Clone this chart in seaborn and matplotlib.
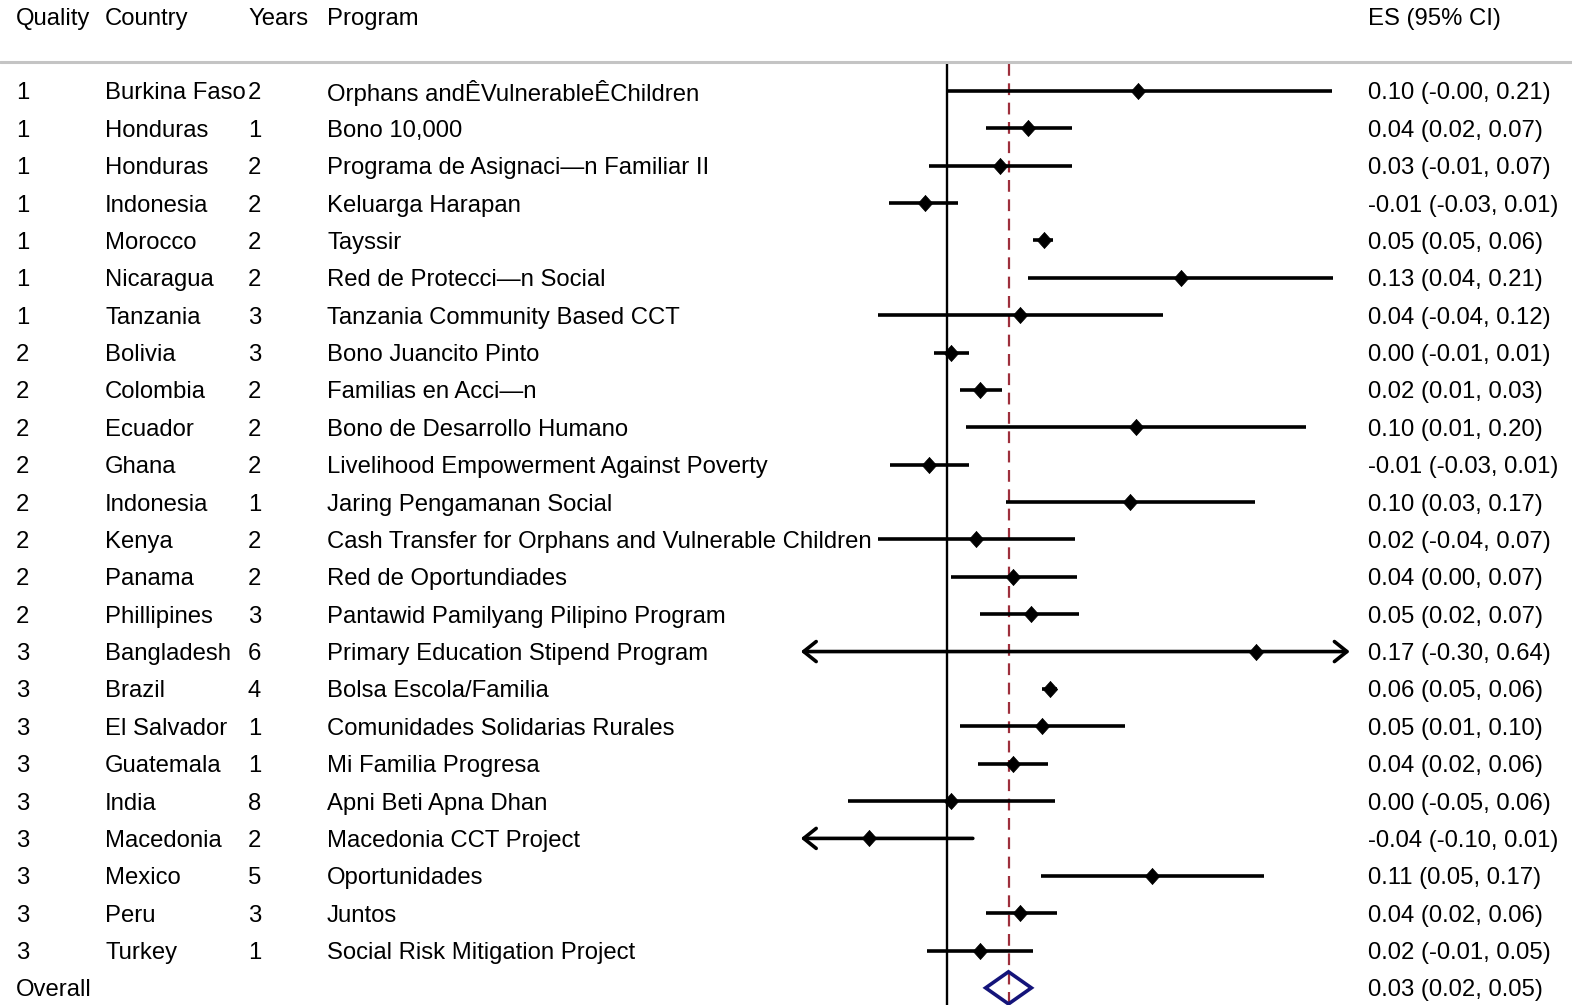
import numpy as np
import pandas as pd
import matplotlib
matplotlib.use("Agg")
import matplotlib.pyplot as plt
import matplotlib.transforms as mtransforms
from matplotlib.patches import Polygon
import seaborn as sns

# =====================================
# DATA
# =====================================

quality = [1, 1, 1, 1, 1, 1, 1, 2, 2, 2, 2, 2, 2, 2, 2, 3, 3, 3, 3, 3, 3, 3, 3, 3]
country = ["Burkina Faso", "Honduras", "Honduras", "Indonesia", "Morocco", "Nicaragua",
           "Tanzania", "Bolivia", "Colombia", "Ecuador", "Ghana", "Indonesia", "Kenya",
           "Panama", "Phillipines", "Bangladesh", "Brazil", "El Salvador", "Guatemala",
           "India", "Macedonia", "Mexico", "Peru", "Turkey"]
years = [2, 1, 2, 2, 2, 2, 3, 3, 2, 2, 2, 1, 2, 2, 3, 6, 4, 1, 1, 8, 2, 5, 3, 1]
program = ["Orphans and\u00caVulnerable\u00caChildren",
           "Bono 10,000",
           "Programa de Asignaci\u2014n Familiar II",
           "Keluarga Harapan",
           "Tayssir",
           "Red de Protecci\u2014n Social",
           "Tanzania Community Based CCT",
           "Bono Juancito Pinto",
           "Familias en Acci\u2014n",
           "Bono de Desarrollo Humano",
           "Livelihood Empowerment Against Poverty",
           "Jaring Pengamanan Social",
           "Cash Transfer for Orphans and Vulnerable Children",
           "Red de Oportundiades",
           "Pantawid Pamilyang Pilipino Program",
           "Primary Education Stipend Program",
           "Bolsa Escola/Familia",
           "Comunidades Solidarias Rurales",
           "Mi Familia Progresa",
           "Apni Beti Apna Dhan",
           "Macedonia CCT Project",
           "Oportunidades",
           "Juntos",
           "Social Risk Mitigation Project"]
es = [0.104, 0.044, 0.029, -0.012, 0.053, 0.128, 0.040, 0.002, 0.018, 0.103, -0.010, 0.100,
      0.016, 0.036, 0.046, 0.169, 0.056, 0.052, 0.036, 0.002, -0.043, 0.112, 0.040, 0.018]
ci_lo = [-0.0004, 0.021, -0.010, -0.032, 0.047, 0.044, -0.038, -0.007, 0.007, 0.010, -0.031, 0.032,
         -0.038, 0.002, 0.018, -0.300, 0.052, 0.007, 0.017, -0.054, -0.101, 0.051, 0.021, -0.011]
ci_hi = [0.210, 0.068, 0.068, 0.006, 0.058, 0.211, 0.118, 0.012, 0.030, 0.196, 0.012, 0.168,
         0.070, 0.071, 0.072, 0.640, 0.060, 0.097, 0.0552, 0.059, 0.014, 0.173, 0.060, 0.047]

overall_es, overall_lo, overall_hi = 0.0335, 0.021, 0.046

headers = ["Quality", "Country", "Years", "Program", "ES (95% CI)"]

# =====================================
# LAYOUT
# =====================================

W, H = 1572, 1005
X0_PX, PX_PER_UNIT = 947.2, 1830.0        # pixel of ES = 0, pixels per ES unit
ROW0_PX, ROW_PX = 91.0, 37.37             # pixel of first row, row spacing
TEXT_DY = 2.5 / ROW_PX                    # text sits a touch lower than the marks
CLIP = (-0.08, 0.22)                      # plotted CI range (arrows beyond)
col_px = [16, 105, 248, 327, 1368]

sns.set_theme(style="white")
plt.rcParams["font.family"] = ["Liberation Sans", "DejaVu Sans"]
FS = 17.2

df = pd.DataFrame({"quality": quality, "country": country, "years": years,
                   "program": program, "es": es, "lo": ci_lo, "hi": ci_hi})
df["row"] = np.arange(len(df))
n = len(df)
overall_row = n

fig = plt.figure(figsize=(W / 100, H / 100), dpi=100)
ax = fig.add_axes([0, 0, 1, 1])
ax.set_xlim(-X0_PX / PX_PER_UNIT, (W - X0_PX) / PX_PER_UNIT)
ax.set_ylim((H - ROW0_PX) / ROW_PX, -ROW0_PX / ROW_PX)
ax.set_axis_off()

trans = mtransforms.blended_transform_factory(ax.transAxes, ax.transData)
col_x = [c / W for c in col_px]

def row_of_px(y):
    return (y - ROW0_PX) / ROW_PX

def put(x, y, s):
    ax.text(x, y + TEXT_DY, s, transform=trans, fontsize=FS, va="center", ha="left",
            color="black")

# header
for x, h in zip(col_x, headers):
    put(x, row_of_px(17), h)
ax.axhline(row_of_px(62), color="#c4c4c4", lw=2.2)

# reference lines
ytop, ybot = row_of_px(64), row_of_px(H + 5)
ax.vlines(0, ytop, ybot, color="black", lw=1.7, zorder=2)
ax.vlines(overall_es, ytop, ybot, color="#9e2f3c", lw=1.6,
          linestyles=(0, (5.3, 3.4)), zorder=2)

# confidence intervals
for _, r in df.iterrows():
    lo_c, hi_c = max(r.lo, CLIP[0]), min(r.hi, CLIP[1])
    left_cut, right_cut = r.lo < CLIP[0], r.hi > CLIP[1]
    if left_cut or right_cut:
        style = "<->" if (left_cut and right_cut) else ("<-" if left_cut else "->")
        ax.annotate("", xy=(hi_c, r.row), xytext=(lo_c, r.row),
                    arrowprops=dict(arrowstyle=f"{style},head_length=0.45,head_width=0.36",
                                    lw=2.6, color="black", shrinkA=0, shrinkB=0,
                                    mutation_scale=20), zorder=3)
    else:
        ax.hlines(r.row, lo_c, hi_c, color="black", lw=2.6, zorder=3)

# point estimates (slightly tall diamond)
diamond_marker = [(0, 1.12), (1, 0), (0, -1.12), (-1, 0), (0, 1.12)]
sns.scatterplot(data=df, x="es", y="row", marker=diamond_marker, s=135, color="black",
                edgecolor="black", linewidth=0.5, ax=ax, zorder=4, legend=False)
ax.set_xlabel("")
ax.set_ylabel("")

# overall diamond
dh = 0.43
diamond = Polygon([[overall_lo, overall_row], [overall_es, overall_row - dh],
                   [overall_hi, overall_row], [overall_es, overall_row + dh]],
                  closed=True, fill=False, edgecolor="#14147a", lw=2.6, zorder=4)
ax.add_patch(diamond)

# text columns
for _, r in df.iterrows():
    vals = [str(r.quality), r.country, str(r.years), r.program,
            f"{r.es:.2f} ({r.lo:.2f}, {r.hi:.2f})"]
    for x, v in zip(col_x, vals):
        put(x, r.row, v)

put(col_x[0], overall_row, "Overall")
put(col_x[4], overall_row, f"{overall_es:.2f} ({overall_lo:.2f}, {overall_hi:.2f})")

fig.savefig("out.png", dpi=100, facecolor="white")
plt.close(fig)
